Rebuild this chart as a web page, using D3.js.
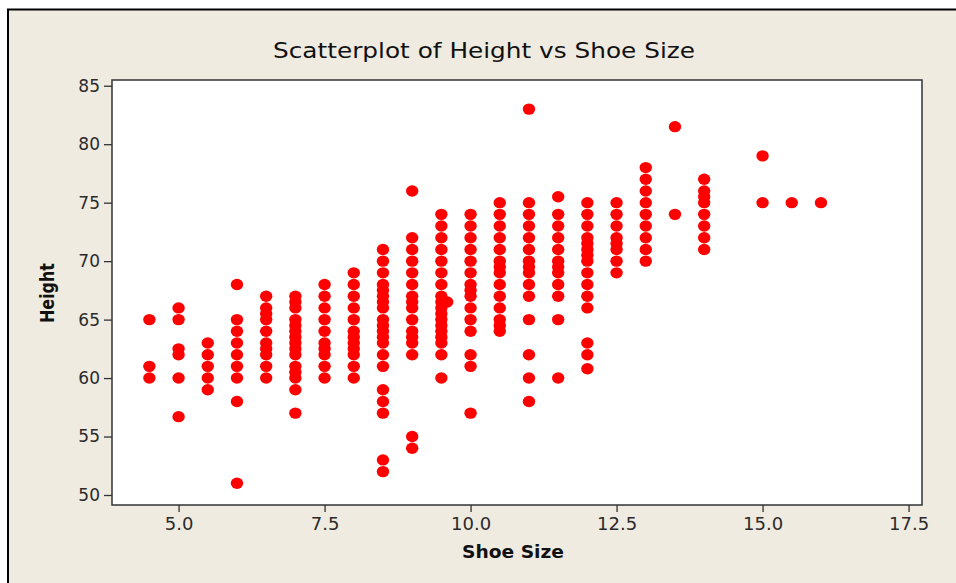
<!DOCTYPE html>
<html>
<head>
<meta charset="utf-8">
<script src="https://cdn.jsdelivr.net/npm/d3@7"></script>
<style>
  html, body { margin: 0; padding: 0; background: #ffffff; }
  svg { display: block; }
</style>
</head>
<body>
<div id="chart"></div>
<script>
//
// Scatterplot of Height vs Shoe Size (Minitab look)
//
const shoeSizes = [4.5, 5.0, 5.5, 6.0, 6.5, 7.0, 7.5, 8.0, 8.5, 9.0, 9.5, 9.6, 10.0, 10.5, 11.0, 11.5, 12.0, 12.5, 13.0, 13.5, 14.0, 15.0, 15.5, 16.0]
const heightsBySize = [
  [65, 61, 60],
  [66, 65, 62.5, 62, 60, 56.7],
  [63, 62, 61, 60, 59],
  [68, 65, 64, 63, 62, 61, 60, 58, 51],
  [67, 66, 65.5, 65, 64, 63, 62.5, 62, 61, 60],
  [67, 66.5, 66, 65, 64.5, 64, 63.5, 63, 62.5, 62, 61, 60.5, 60, 59, 57],
  [68, 67, 66, 65, 64, 63, 62.5, 62, 61, 60],
  [69, 68, 67, 66, 65, 64, 63.5, 63, 62.5, 62, 61, 60],
  [71, 70, 69, 68, 67.5, 67, 66.5, 66, 65, 64.5, 64, 63.5, 63, 62, 61, 59, 58, 57, 53, 52],
  [76, 72, 71, 70, 69, 68, 67, 66.5, 66, 65, 64, 63.5, 63, 62, 55, 54],
  [74, 73, 72, 71, 70, 69, 68, 67, 66.5, 66, 65.5, 65, 64.5, 64, 63.5, 63, 62, 60],
  [66.5],
  [74, 73, 72, 71, 70, 69, 68, 67.5, 67, 66, 65, 64, 62, 61, 57],
  [75, 74, 73, 72, 71, 70, 69.5, 69, 68, 67, 66, 65, 64.5, 64],
  [83, 75, 74, 73, 72, 71, 70, 69.5, 69, 68, 67, 65, 62, 60, 58],
  [75.5, 74, 73, 72, 71, 70, 69.5, 69, 68, 67, 65, 60],
  [75, 74, 73, 72, 71.5, 71, 70.5, 70, 69, 68, 67, 66, 63, 62, 60.8],
  [75, 74, 73, 72, 71.5, 71, 70, 69],
  [78, 77, 76, 75, 74, 73, 72, 71, 70],
  [81.5, 74],
  [77, 76, 75.5, 75, 74, 73, 72, 71],
  [79, 75],
  [75],
  [75]
]
const xTicks = [5.0, 7.5, 10.0, 12.5, 15.0, 17.5]
const yTicks = [50, 55, 60, 65, 70, 75, 80, 85]
const titleText = 'Scatterplot of Height vs Shoe Size'
const xLabel = 'Shoe Size'
const yLabel = 'Height'

const width = 956
const height = 583
const plot = { left: 112, right: 922, top: 80, bottom: 505 }

// flatten columns into points
const points = []
shoeSizes.forEach(function (size, i) {
  heightsBySize[i].forEach(function (h) { points.push({ size: size, height: h }) })
})

const svg = d3.select('#chart')
  .append('svg')
  .attr('width', width)
  .attr('height', height)

// background and window frame
svg.append('rect').attr('x', 0).attr('y', 0).attr('width', width).attr('height', height).attr('fill', '#ffffff')
svg.append('rect').attr('x', 8).attr('y', 9.5).attr('width', width).attr('height', height).attr('fill', '#efebe1')
svg.append('path')
  .attr('d', 'M8,' + height + 'V9.5H' + width)
  .attr('fill', 'none').attr('stroke', '#000').attr('stroke-width', 2)

const x = d3.scaleLinear().domain([3.86, 17.73]).range([plot.left, plot.right])
const y = d3.scaleLinear().domain([49.145, 85.49]).range([plot.bottom, plot.top])

// plot area
svg.append('rect')
  .attr('x', plot.left).attr('y', plot.top)
  .attr('width', plot.right - plot.left).attr('height', plot.bottom - plot.top)
  .attr('fill', '#ffffff').attr('stroke', '#333').attr('stroke-width', 1.5)

// axes
const xAxis = svg.append('g')
  .attr('transform', 'translate(0,' + plot.bottom + ')')
  .call(d3.axisBottom(x).tickValues(xTicks).tickFormat(d3.format('.1f')).tickSize(7).tickPadding(5))
const yAxis = svg.append('g')
  .attr('transform', 'translate(' + plot.left + ',0)')
  .call(d3.axisLeft(y).tickValues(yTicks).tickSize(8).tickPadding(4))

;[xAxis, yAxis].forEach(function (g) {
  g.select('.domain').remove()
  g.selectAll('.tick line').attr('stroke', '#333').attr('stroke-width', 1.3)
  g.selectAll('.tick text')
    .attr('fill', '#2a2a2a')
    .style('font-family', 'DejaVu Sans')
    .style('font-size', '17px')
})
xAxis.selectAll('.tick text').style('font-size', '18px')

// points
svg.append('g')
  .selectAll('ellipse')
  .data(points)
  .enter().append('ellipse')
  .attr('cx', function (d) { return x(d.size) })
  .attr('cy', function (d) { return y(d.height) })
  .attr('rx', 6.2)
  .attr('ry', 5.7)
  .attr('fill', '#ff0000')

// title and axis labels
svg.append('text')
  .attr('x', 484).attr('y', 58)
  .attr('text-anchor', 'middle')
  .attr('textLength', 422).attr('lengthAdjust', 'spacingAndGlyphs')
  .style('font-family', 'DejaVu Sans').style('font-size', '21px')
  .attr('fill', '#111')
  .text(titleText)

svg.append('text')
  .attr('x', 513).attr('y', 558)
  .attr('text-anchor', 'middle')
  .attr('textLength', 102).attr('lengthAdjust', 'spacingAndGlyphs')
  .style('font-family', 'DejaVu Sans').style('font-size', '18px').style('font-weight', 'bold')
  .attr('fill', '#111')
  .text(xLabel)

svg.append('text')
  .attr('transform', 'translate(54,293)rotate(-90)')
  .attr('text-anchor', 'middle')
  .attr('textLength', 60).attr('lengthAdjust', 'spacingAndGlyphs')
  .style('font-family', 'DejaVu Sans').style('font-size', '20px').style('font-weight', 'bold')
  .attr('fill', '#111')
  .text(yLabel)
</script>
</body>
</html>
